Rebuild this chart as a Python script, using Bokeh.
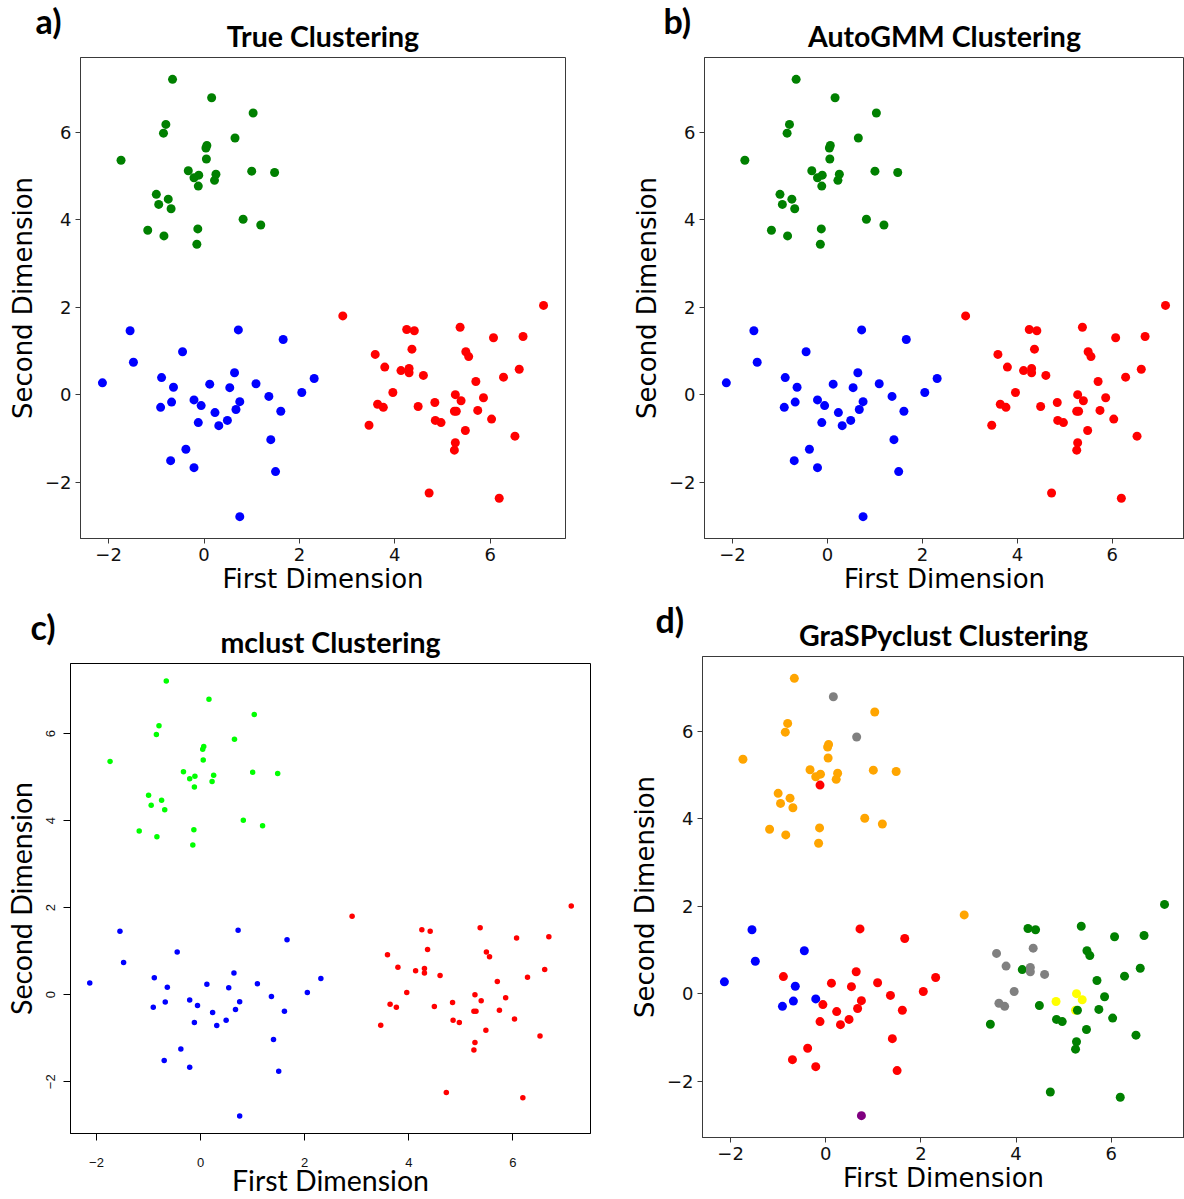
from bokeh.plotting import figure
from bokeh.models import ColumnDataSource, Range1d, FixedTicker, Title
from bokeh.layouts import row, column
from bokeh.embed import file_html
from bokeh.resources import INLINE

# ---- data: 100 points in 2-D, grouped by true cluster ----
top_x = [-0.66, 0.16, 1.03, -0.80, -0.85, 0.65, 0.06, 0.04, -1.74, 0.05, -0.33, -0.11, -0.21, 0.25,
         0.22, 1.00, 1.48, -0.12, -1.00, -0.75, -0.95, -0.69, 0.82, 1.19, -1.18, -0.84, -0.13, -0.15]
top_y = [7.21, 6.79, 6.44, 6.18, 5.98, 5.87, 5.70, 5.64, 5.36, 5.39, 5.12, 5.02, 4.96, 5.04,
         4.90, 5.11, 5.08, 4.77, 4.58, 4.47, 4.35, 4.25, 4.01, 3.88, 3.76, 3.63, 3.79, 3.44]

left_x = [-1.55, 0.72, 1.66, -0.45, -1.48, 0.64, -2.13, -0.89, -0.64, 0.12, 0.54, 1.09, 2.31, 2.05,
          1.36, -0.68, -0.91, -0.21, -0.06, 0.75, 0.67, 0.23, 1.61, -0.12, 0.49, 0.31, 1.40, -0.38,
          -0.70, -0.21, 1.50, 0.75]
left_y = [1.46, 1.48, 1.26, 0.98, 0.74, 0.50, 0.27, 0.39, 0.17, 0.24, 0.16, 0.25, 0.37, 0.05,
          -0.04, -0.17, -0.29, -0.12, -0.25, -0.16, -0.34, -0.41, -0.38, -0.64, -0.59, -0.71, -1.03, -1.25,
          -1.51, -1.67, -1.76, -2.79]

right_x = [7.12, 2.91, 4.25, 4.41, 5.37, 6.07, 6.69, 3.59, 4.36, 5.49, 5.55, 3.79, 4.13, 4.30,
           4.30, 4.60, 6.61, 6.28, 5.70, 3.96, 5.27, 5.39, 5.86, 3.64, 3.76, 4.49, 4.84, 5.25,
           5.29, 5.74, 4.85, 4.97, 6.03, 3.46, 5.48, 6.52, 5.27, 5.25, 4.72, 6.19]
right_y = [2.04, 1.80, 1.49, 1.46, 1.54, 1.30, 1.33, 0.92, 1.04, 0.98, 0.87, 0.63, 0.55, 0.60,
           0.50, 0.44, 0.58, 0.40, 0.30, 0.05, 0.00, -0.14, -0.07, -0.22, -0.29, -0.27, -0.18, -0.38,
           -0.38, -0.36, -0.59, -0.64, -0.56, -0.70, -0.82, -0.95, -1.10, -1.27, -2.25, -2.37]

# cluster assignments of each method (same point order as above)
true_top = ["A"] * 28
true_left = ["B"] * 32
true_right = ["C"] * 40
autogmm_top, autogmm_left, autogmm_right = true_top, true_left, true_right
mclust_top, mclust_left, mclust_right = true_top, true_left, true_right

graspy_top = ["O", "G", "O", "O", "O", "G", "O", "O", "O", "O", "O", "O", "O", "O",
              "O", "O", "O", "R", "O", "O", "O", "O", "O", "O", "O", "O", "O", "O"]
graspy_left = ["B", "R", "R", "B", "B", "R", "B", "R", "B", "R", "R", "R", "R", "R",
               "R", "B", "B", "B", "R", "R", "R", "R", "R", "R", "R", "R", "R", "R",
               "R", "R", "R", "P"]
graspy_right = ["K", "O", "K", "K", "K", "K", "K", "G", "G", "K", "K", "G", "K", "G",
                "G", "G", "K", "K", "K", "G", "Y", "Y", "K", "G", "G", "K", "Y", "Y",
                "K", "K", "K", "K", "K", "K", "K", "K", "K", "K", "K", "K"]

tick_values = [-2, 0, 2, 4, 6]

# ---- styles ----
MPL_COLORS = {"A": "#008000", "B": "#0000FF", "C": "#FF0000"}
R_COLORS = {"A": "#00FF00", "B": "#0000FF", "C": "#FF0000"}
GRASPY_COLORS = {"O": "#FFA500", "G": "#808080", "R": "#FF0000", "B": "#0000FF",
                 "K": "#008000", "Y": "#FFFF00", "P": "#800080"}

all_x = top_x + left_x + right_x
all_y = top_y + left_y + right_y


def make_panel(title, letter, labels, palette, rstyle, width, height, borders, xr, yr, letter_dx):
    left, right, top, bottom = borders
    p = figure(width=width, height=height, output_backend="svg", toolbar_location=None,
               x_range=Range1d(*xr), y_range=Range1d(*yr),
               min_border_left=left, min_border_right=right,
               min_border_top=top, min_border_bottom=bottom)
    p.background_fill_color = "white"
    p.border_fill_color = "white"
    p.grid.visible = False
    p.outline_line_color = "black" if rstyle else "#3a3a3a"
    p.outline_line_width = 1

    src = ColumnDataSource(dict(x=all_x, y=all_y, c=[palette[k] for k in labels]))
    p.scatter("x", "y", source=src, size=5.5 if rstyle else 9, fill_color="c", line_color=None)

    # panel letter (outer title row)
    p.title.text = letter
    p.title.align = "left"
    p.title.offset = letter_dx
    p.title.standoff = -58
    p.title.text_font = "Lato"
    p.title.text_font_style = "bold"
    p.title.text_font_size = "34px"
    p.title.text_color = "black"

    # panel title (row next to the frame)
    p.add_layout(Title(text=title, align="center", standoff=10, text_font="Lato",
                       text_font_style="bold", text_font_size="28.5px", text_color="black"), "above")

    for ax in (p.xaxis[0], p.yaxis[0]):
        ax.ticker = FixedTicker(ticks=tick_values)
        ax.minor_tick_line_color = None
        ax.major_tick_in = 0
        ax.axis_label_text_font_style = "normal"
        ax.axis_label_text_color = "black"
        ax.major_label_text_color = "#111111"
        if rstyle:
            ax.major_tick_out = 7
            ax.major_label_text_font = "Liberation Sans"
            ax.major_label_text_font_size = "13px"
            ax.axis_label_text_font = "Lato"
            ax.axis_label_text_font_size = "28.5px"
            ax.axis_line_color = "black"
            ax.major_tick_line_color = "black"
        else:
            ax.major_tick_out = 5
            ax.major_label_text_font = "DejaVu Sans"
            ax.major_label_text_font_size = "18px"
            ax.axis_label_text_font = "DejaVu Sans"
            ax.axis_label_text_font_size = "26px"
            ax.axis_line_color = "#3a3a3a"
            ax.major_tick_line_color = "#3a3a3a"
            ax.major_label_overrides = {-2: "\u22122"}
    p.xaxis.axis_label = "First Dimension"
    p.yaxis.axis_label = "Second Dimension"
    if rstyle:
        p.xaxis.major_label_standoff = 17
        p.yaxis.major_label_standoff = 8
        p.yaxis.major_label_orientation = "vertical"
        p.xaxis.axis_label_standoff = -7
        p.yaxis.axis_label_standoff = 6
    else:
        p.xaxis.major_label_standoff = 4
        p.yaxis.major_label_standoff = 4
        p.xaxis.axis_label_standoff = 0
        p.yaxis.axis_label_standoff = 4
    return p


pa = make_panel("True Clustering", "a)", true_top + true_left + true_right, MPL_COLORS, False,
                600, 600, (80, 35, 57, 62), (-2.59, 7.58), (-3.29, 7.71), -45)
pb = make_panel("AutoGMM Clustering", "b)", autogmm_top + autogmm_left + autogmm_right, MPL_COLORS, False,
                584, 600, (104, 0, 57, 62), (-2.59, 7.52), (-3.29, 7.71), -41)
pc = make_panel("mclust Clustering", "c)", mclust_top + mclust_left + mclust_right, R_COLORS, True,
                600, 599, (70, 10, 63, 66), (-2.50, 7.49), (-3.19, 7.61), -40)
pd = make_panel("GraSPyclust Clustering", "d)", graspy_top + graspy_left + graspy_right, GRASPY_COLORS, False,
                584, 599, (102, 0, 56, 62), (-2.59, 7.54), (-3.29, 7.71), -47)

# wrap each panel on its own so that the frames of neighbouring panels are not aligned
layout = column(row(column(pa), column(pb), spacing=0),
                row(column(pc), column(pd), spacing=0), spacing=0)
open("out.html", "w").write(file_html(layout, INLINE))
